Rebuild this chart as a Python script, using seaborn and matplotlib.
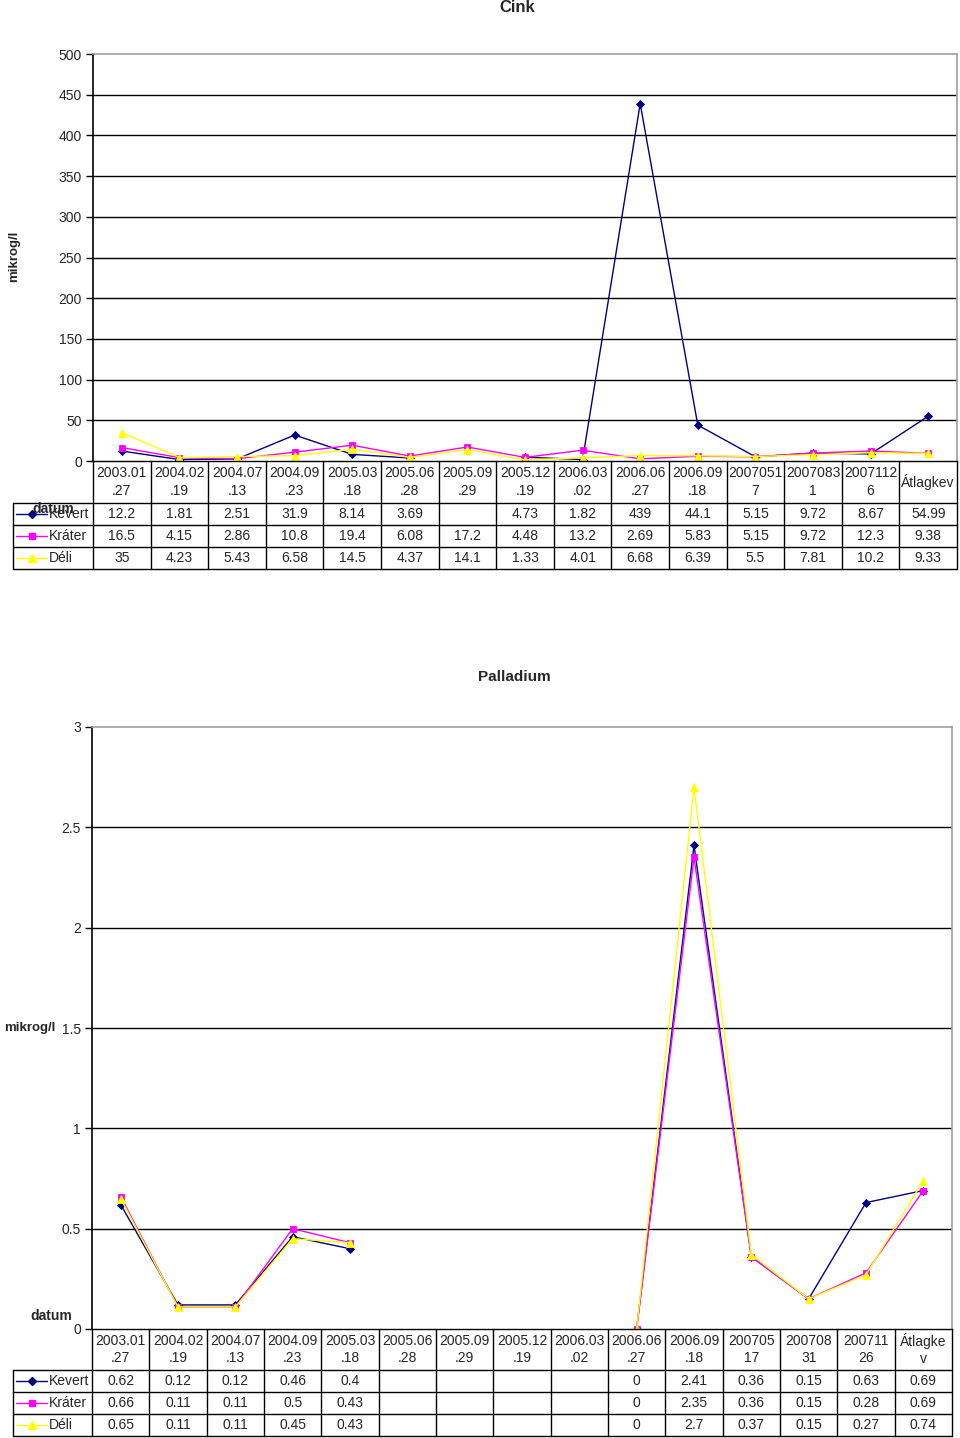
import numpy as np
import pandas as pd
import matplotlib
matplotlib.use("Agg")
import matplotlib.pyplot as plt
from matplotlib.lines import Line2D
from matplotlib.transforms import Affine2D, blended_transform_factory
import seaborn as sns

# ---------------- data ----------------
series_names = ["Kevert", "Kráter", "Déli"]
series_colors = ["#000080", "#FF00FF", "#FFFF00"]
series_markers = ["D", "s", "^"]

zn_cats = ["2003.01\n.27", "2004.02\n.19", "2004.07\n.13", "2004.09\n.23", "2005.03\n.18",
           "2005.06\n.28", "2005.09\n.29", "2005.12\n.19", "2006.03\n.02", "2006.06\n.27",
           "2006.09\n.18", "2007051\n7", "2007083\n1", "2007112\n6", "Átlagkev"]
zn_kevert = [12.2, 1.81, 2.51, 31.9, 8.14, 3.69, None, 4.73, 1.82, 439, 44.1, 5.15, 9.72, 8.67, 54.99]
zn_krater = [16.5, 4.15, 2.86, 10.8, 19.4, 6.08, 17.2, 4.48, 13.2, 2.69, 5.83, 5.15, 9.72, 12.3, 9.38]
zn_deli = [35, 4.23, 5.43, 6.58, 14.5, 4.37, 14.1, 1.33, 4.01, 6.68, 6.39, 5.5, 7.81, 10.2, 9.33]
zn_yticks = [0, 50, 100, 150, 200, 250, 300, 350, 400, 450, 500]

pd_cats = ["2003.01\n.27", "2004.02\n.19", "2004.07\n.13", "2004.09\n.23", "2005.03\n.18",
           "2005.06\n.28", "2005.09\n.29", "2005.12\n.19", "2006.03\n.02", "2006.06\n.27",
           "2006.09\n.18", "200705\n17", "200708\n31", "200711\n26", "Átlagke\nv"]
pd_kevert = [0.62, 0.12, 0.12, 0.46, 0.4, None, None, None, None, 0, 2.41, 0.36, 0.15, 0.63, 0.69]
pd_krater = [0.66, 0.11, 0.11, 0.5, 0.43, None, None, None, None, 0, 2.35, 0.36, 0.15, 0.28, 0.69]
pd_deli = [0.65, 0.11, 0.11, 0.45, 0.43, None, None, None, None, 0, 2.7, 0.37, 0.15, 0.27, 0.74]
pd_yticks = [0, 0.5, 1, 1.5, 2, 2.5, 3]

# ---------------- style ----------------
sns.set_style("white")
plt.rcParams["font.family"] = ["Liberation Sans", "DejaVu Sans"]

W, H = 960, 1438
fig = plt.figure(figsize=(W / 100, H / 100), dpi=100)
pix = Affine2D().scale(1, -1).translate(0, H)  # x px, y px from top -> display


def add_axes_px(left, top, right, bottom):
    return fig.add_axes([left / W, 1 - bottom / H, (right - left) / W, (bottom - top) / H])


def long_df(cats, values_list):
    rows = []
    for name, vals in zip(series_names, values_list):
        seg = 0
        prev_nan = True
        for i, v in enumerate(vals):
            if v is None:
                prev_nan = True
                continue
            if prev_nan:
                seg += 1
                prev_nan = False
            rows.append({"x": i, "y": v, "series": name, "seg": seg})
    return pd.DataFrame(rows)


def marker_size(mk):
    return 5.5 if mk == "^" else (4.3 if mk == "D" else 4.8)


def draw_chart(ax, cats, values_list, yticks, ymax, grid_color):
    df = long_df(cats, values_list)
    for name, col, mk in zip(series_names, series_colors, series_markers):
        sub = df[df["series"] == name]
        sns.lineplot(data=sub, x="x", y="y", units="seg", estimator=None, ax=ax,
                     color=col, marker=mk, markersize=marker_size(mk), markeredgecolor=col,
                     markeredgewidth=0.6, linewidth=1.0, legend=False, sort=False)
    ax.set_xlim(-0.5, len(cats) - 0.5)
    ax.set_ylim(0, ymax)
    ax.set_yticks(yticks)
    ax.set_yticklabels([f"{t:g}" for t in yticks])
    ax.set_xticks([])
    ax.set_xlabel("")
    ax.set_ylabel("")
    ax.tick_params(axis="y", which="both", left=True, length=5, width=1, color="black",
                   labelsize=10, pad=3, direction="out")
    for t in yticks[1:-1]:
        ax.axhline(t, color=grid_color, lw=1.0, zorder=0.5)
    ax.spines["left"].set_color("black")
    ax.spines["left"].set_linewidth(1.2)
    ax.spines["bottom"].set_color("black")
    ax.spines["bottom"].set_linewidth(1.0)
    ax.spines["top"].set_color("#a0a0a0")
    ax.spines["right"].set_color("#a0a0a0")
    ax.spines["top"].set_linewidth(1.2)
    ax.spines["right"].set_linewidth(1.2)


def draw_table(ax, cats, values_list, top, header_h, row_h, leg_left):
    bt = blended_transform_factory(ax.transData, pix)
    n = len(cats)
    rows_top = top + header_h
    bottom = rows_top + 3 * row_h
    lk = dict(color="black", lw=1.0, clip_on=False)
    for i in range(n + 1):
        xb = i - 0.5
        fig.add_artist(Line2D([xb, xb], [top, bottom], transform=bt, **lk))
    fig.add_artist(Line2D([leg_left, leg_left], [rows_top, bottom], transform=pix, **lk))
    x_end = ax.transData.transform((n - 0.5, 0))[0]
    for r in range(4):
        y = rows_top + r * row_h
        fig.add_artist(Line2D([leg_left, x_end], [y, y], transform=pix, **lk))
    for i, c in enumerate(cats):
        fig.text(i, top + header_h / 2, c, transform=bt, ha="center", va="center",
                 fontsize=10, linespacing=1.35)
    for r, (name, col, mk, vals) in enumerate(zip(series_names, series_colors,
                                                  series_markers, values_list)):
        yc = rows_top + r * row_h + row_h / 2
        fig.add_artist(Line2D([leg_left + 3, leg_left + 34], [yc, yc], transform=pix,
                              color=col, lw=1.0))
        fig.add_artist(Line2D([leg_left + 19], [yc], transform=pix, color=col,
                              marker=mk, markersize=marker_size(mk), markeredgecolor=col, lw=0))
        fig.text(leg_left + 36, yc, name, transform=pix, ha="left", va="center", fontsize=10)
        for i, v in enumerate(vals):
            if v is None:
                continue
            fig.text(i, yc, f"{v:g}", transform=bt, ha="center", va="center", fontsize=10)


# ---------------- Cink ----------------
ax1 = add_axes_px(93, 54, 957, 461)
draw_chart(ax1, zn_cats, [zn_kevert, zn_krater, zn_deli], zn_yticks, 500, "black")
draw_table(ax1, zn_cats, [zn_kevert, zn_krater, zn_deli], 461, 42, 22, 13)
fig.text(517, 7, "Cink", transform=pix, ha="center", va="center", fontsize=12,
         fontweight="bold")
fig.text(14, 256, "mikrog/l", transform=pix, ha="center", va="center", fontsize=9.5,
         fontweight="bold", rotation=90)
fig.text(53, 509, "datum", transform=pix, ha="center", va="center", fontsize=10,
         fontweight="bold")

# ---------------- Palladium ----------------
ax2 = add_axes_px(92, 727, 952, 1329)
draw_chart(ax2, pd_cats, [pd_kevert, pd_krater, pd_deli], pd_yticks, 3, "black")
draw_table(ax2, pd_cats, [pd_kevert, pd_krater, pd_deli], 1329, 41, 22, 13)
fig.text(514, 677, "Palladium", transform=pix, ha="center", va="center", fontsize=11,
         fontweight="bold")
fig.text(30, 1028, "mikrog/l", transform=pix, ha="center", va="center", fontsize=9.5,
         fontweight="bold")
fig.text(51, 1316, "datum", transform=pix, ha="center", va="center", fontsize=10,
         fontweight="bold")

fig.savefig("out.png", dpi=100)
